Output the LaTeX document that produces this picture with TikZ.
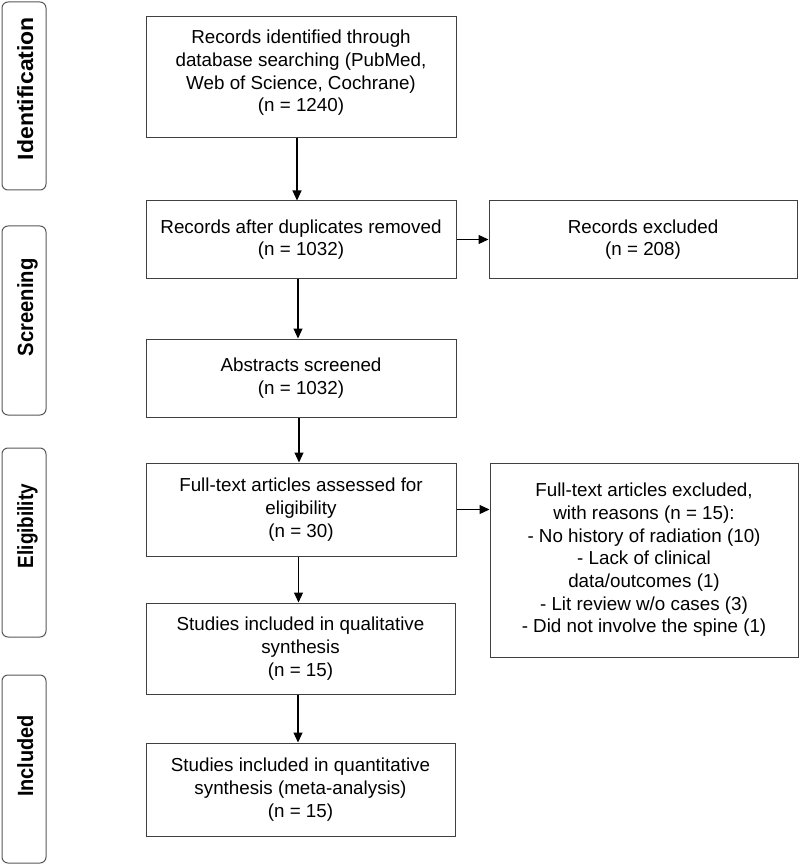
\documentclass[tikz,border=0pt]{standalone}
\usepackage{fontspec}
\usepackage{graphicx}
\setmainfont{Liberation Sans}
\usetikzlibrary{arrows.meta}
\begin{document}
\begin{tikzpicture}[x=1pt,y=-1pt,
  box/.style={draw=black!75, line width=1pt, inner sep=0pt, align=center,
    font=\fontsize{18.8}{22.7}\selectfont},
  boxtext/.style={inner sep=0pt, align=center, font=\fontsize{18.8}{22.7}\selectfont},
  phase/.style={draw=black!65, line width=1pt, rounded corners=6pt,
    minimum width=44pt, minimum height=188pt, inner sep=0pt},
  phaselabel/.style={rotate=90, anchor=base, inner sep=0pt,
    font=\fontsize{22}{26}\selectfont\bfseries},
  conn/.style={-{Triangle[length=10pt,width=9pt]}, line width=1.1pt, black}]
\useasboundingbox (0,0) rectangle (800,866);
\fill[white] (0,0) rectangle (800,866);
% phase boxes
\node[phase] (pid) at (24,96) {};
\node[phase, minimum height=189pt] (psc) at (24,320.5) {};
\node[phase, minimum height=189pt] (pel) at (24,542.5) {};
\node[phase] (pin) at (24,769) {};
\node[phaselabel] (lid) at (33,88.5) {\scalebox{1.045}[1]{Identification}};
\node[phaselabel] (lsc) at (33,307.5) {\scalebox{0.92}[1]{Screening}};
\node[phaselabel] (lel) at (33,526) {\scalebox{0.86}[1]{Eligibility}};
\node[phaselabel] (lin) at (33,756) {\scalebox{0.906}[1]{Included}};
% main boxes
\node[box, minimum width=310pt, minimum height=121pt] (b1) at (301,77.5) {};
\node[boxtext] (t1) at (301,72.8)
  {Records identified through\\database searching (PubMed,\\Web of Science, Cochrane)\\(n = 1240)};
\node[box, minimum width=310pt, minimum height=77pt] (b2) at (301,239.5)
  {Records after duplicates removed\\(n = 1032)};
\node[box, minimum width=308pt, minimum height=77pt] (b3) at (643,239.5)
  {Records excluded\\(n = 208)};
\node[box, minimum width=310pt, minimum height=78pt] (b4) at (301,378)
  {Abstracts screened\\(n = 1032)};
\node[box, minimum width=310pt, minimum height=93pt] (b5) at (301,509.5)
  {Full-text articles assessed for\\eligibility\\(n = 30)};
\node[box, minimum width=308pt, minimum height=194pt] (b6) at (644,560)
  {Full-text articles excluded,\\with reasons (n = 15):\\- No history of radiation (10)\\- Lack of clinical\\data/outcomes (1)\\- Lit review w/o cases (3)\\- Did not involve the spine (1)};
\node[box, minimum width=309pt, minimum height=91pt] (b7) at (300.5,648.5)
  {Studies included in qualitative\\synthesis\\(n = 15)};
\node[box, minimum width=309pt, minimum height=93pt] (b8) at (300.5,789.5)
  {Studies included in quantitative\\synthesis (meta-analysis)\\(n = 15)};
% connectors
\draw[conn] ([xshift=-4pt]b1.south) -- ([xshift=-4pt]b2.north);
\draw[conn] ([xshift=-3pt]b2.south) -- ([xshift=-3pt]b4.north);
\draw[conn] ([xshift=-2pt]b4.south) -- ([xshift=-2pt]b5.north);
\draw[conn] ([xshift=-2.5pt]b5.south) -- ([xshift=-2pt]b7.north);
\draw[conn] ([xshift=-2.5pt]b7.south) -- ([xshift=-2.5pt]b8.north);
\draw[conn] (b2.east) -- (b3.west);
\draw[conn] (b5.east) -- (b5.east -| b6.west);
\end{tikzpicture}
\end{document}
